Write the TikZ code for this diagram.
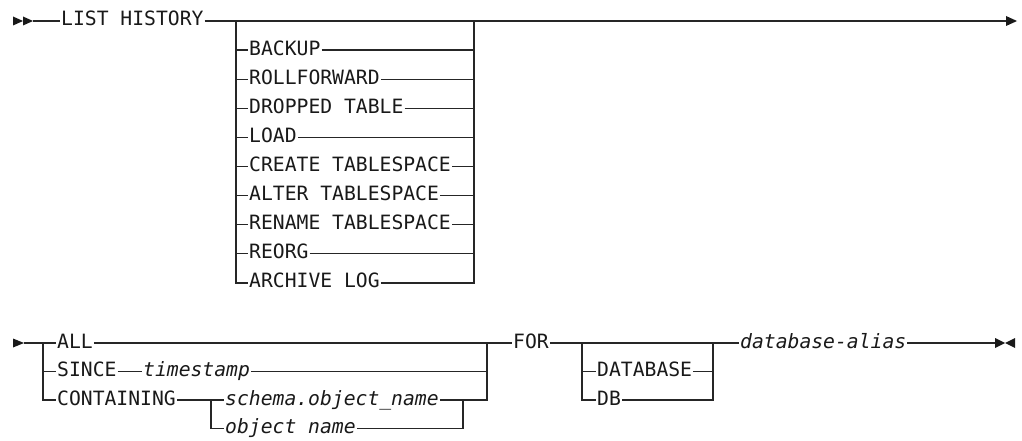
\documentclass[tikz,border=0pt]{standalone}
\usepackage{fontspec}
\setmonofont{DejaVu Sans Mono}
\usetikzlibrary{positioning}

\begin{document}
\begin{tikzpicture}[
  x=1pt, y=-1pt,
  font=\fontsize{19.7}{20}\selectfont\ttfamily,
  kw/.style={inner xsep=1pt, inner ysep=0pt, text height=10pt, text depth=0pt, anchor=west, text=black!90},
  var/.style={kw, font=\fontsize{19.7}{20}\selectfont\ttfamily\itshape},
  rail/.style={line width=1.2pt, draw=black!85},
  tip/.style={fill=black!90, draw=none},
  ]
  \useasboundingbox (0,0) rectangle (1022,441);

  % first part
  \fill[tip] (13,16.5) -- (23,21) -- (13,25.5) -- cycle;
  \fill[tip] (23,16.5) -- (33,21) -- (23,25.5) -- cycle;
  \coordinate (start1) at (33,21);
  \node[kw] (list) at (60,21) {LIST HISTORY};
  \coordinate (end1) at (1006,21);
  \fill[tip] (1006,16) -- (1017,21) -- (1006,26) -- cycle;
  \draw[rail] (start1) -- (list.west);
  \draw[rail] (list.east) -- (end1);

  \coordinate (bl) at (236,21);
  \coordinate (br) at (474,21);
  \node[kw] (bkp)  at (248,50.1)  {BACKUP};
  \node[kw] (roll) at (248,79.2)  {ROLLFORWARD};
  \node[kw] (drop) at (248,108.3) {DROPPED TABLE};
  \node[kw] (load) at (248,137.4) {LOAD};
  \node[kw] (crts) at (248,166.5) {CREATE TABLESPACE};
  \node[kw] (alts) at (248,195.6) {ALTER TABLESPACE};
  \node[kw] (rnts) at (248,224.7) {RENAME TABLESPACE};
  \node[kw] (reorg) at (248,253.8) {REORG};
  \node[kw] (arch) at (248,282.9) {ARCHIVE LOG};

  \draw[rail] (bl) |- (arch.west);
  \draw[rail] (arch.east) -| (br);
  \draw[rail] (bl |- bkp) -- (bkp.west);
  \draw[rail] (bkp.east) -- (br |- bkp);
  \draw[rail] (bl |- roll) -- (roll.west);
  \draw[rail] (roll.east) -- (br |- roll);
  \draw[rail] (bl |- drop) -- (drop.west);
  \draw[rail] (drop.east) -- (br |- drop);
  \draw[rail] (bl |- load) -- (load.west);
  \draw[rail] (load.east) -- (br |- load);
  \draw[rail] (bl |- crts) -- (crts.west);
  \draw[rail] (crts.east) -- (br |- crts);
  \draw[rail] (bl |- alts) -- (alts.west);
  \draw[rail] (alts.east) -- (br |- alts);
  \draw[rail] (bl |- rnts) -- (rnts.west);
  \draw[rail] (rnts.east) -- (br |- rnts);
  \draw[rail] (bl |- reorg) -- (reorg.west);
  \draw[rail] (reorg.east) -- (br |- reorg);

  % second part
  \fill[tip] (13,338.5) -- (24,343) -- (13,347.5) -- cycle;
  \coordinate (start2) at (24,343);
  \coordinate (ol) at (43,343);
  \coordinate (or) at (487,343);
  \node[kw] (all) at (56,343) {ALL};
  \node[kw] (since) at (56,371.5) {SINCE};
  \node[var] (ts) at (142,371.5) {timestamp};
  \node[kw] (cont) at (56,400) {CONTAINING};
  \coordinate (il) at (211,400);
  \coordinate (ir) at (463,400);
  \node[var] (schm) at (224,400) {schema.object\_name};
  \node[var] (obj) at (224,428.5) {object name};
  \node[kw] (for) at (512,343) {FOR};
  \coordinate (dl) at (582,343);
  \coordinate (dr) at (713,343);
  \node[kw] (dbase) at (596,371.5) {DATABASE};
  \node[kw] (db) at (596,400) {DB};
  \node[var] (alias) at (739,343) {database-alias};
  \coordinate (end2) at (995,343);
  \fill[tip] (995,338) -- (1005,343) -- (995,348) -- cycle;
  \fill[tip] (1015,338) -- (1005,343) -- (1015,348) -- cycle;

  \draw[rail] (start2) -- (all.west);
  \draw[rail] (all.east) -- (for.west);
  \draw[rail] (ol) |- (cont.west);
  \draw[rail] (ol |- since) -- (since.west);
  \draw[rail] (since.east) -- (ts.west);
  \draw[rail] (ts.east) -- (or |- ts);
  \draw[rail] (cont.east) -- (schm.west);
  \draw[rail] (schm.east) -| (or);
  \draw[rail] (il) |- (obj.west);
  \draw[rail] (obj.east) -| (ir);
  \draw[rail] (for.east) -- (alias.west);
  \draw[rail] (dl) |- (db.west);
  \draw[rail] (dl |- dbase) -- (dbase.west);
  \draw[rail] (dbase.east) -- (dr |- dbase);
  \draw[rail] (db.east) -| (dr);
  \draw[rail] (alias.east) -- (end2);
\end{tikzpicture}
\end{document}
